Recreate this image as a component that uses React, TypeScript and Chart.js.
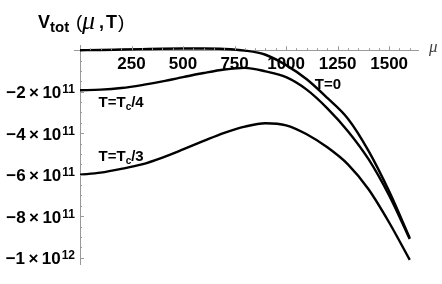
import React, { useEffect, useRef } from "react";
import { Chart, registerables } from "chart.js";

Chart.register(...registerables);

// chemical potential mu
const mu = [0, 100, 200, 300, 400, 500, 600, 700, 800, 900, 1000, 1100, 1200, 1300, 1400, 1500, 1600];

// V_tot(mu, T) for the three temperatures
const vT0 = [0, 0.01e11, 0.03e11, 0.05e11, 0.07e11, 0.08e11, 0.08e11, 0.06e11, -0.02e11, -0.22e11, -0.72e11, -1.4e11, -2.3e11, -3.3e11, -4.85e11, -6.8e11, -9.05e11];
const vTc4 = [-1.93e11, -1.9e11, -1.82e11, -1.68e11, -1.5e11, -1.3e11, -1.1e11, -0.93e11, -0.85e11, -1.02e11, -1.3e11, -1.9e11, -2.8e11, -3.9e11, -5.25e11, -7.0e11, -9.1e11];
const vTc3 = [-6.0e11, -5.9e11, -5.72e11, -5.5e11, -5.17e11, -4.78e11, -4.37e11, -3.98e11, -3.68e11, -3.52e11, -3.62e11, -4.05e11, -4.68e11, -5.5e11, -6.7e11, -8.3e11, -10.1e11];

// axis ticks
const xTickLabels = [250, 500, 750, 1000, 1250, 1500];
const yTickValues = [-2e11, -4e11, -6e11, -8e11, -1e12];
const yTickMantissa = ["2", "4", "6", "8", "1"];
const yTickExponent = ["11", "11", "11", "11", "12"];

// curve labels: main text, subscript, tail, anchor in data coordinates
const curveLabelText = ["T=0", "T=T", "T=T"];
const curveLabelSub = ["", "c", "c"];
const curveLabelTail = ["", "/4", "/3"];
const curveLabelMu = [1139, 90, 90];
const curveLabelV = [-1.59e11, -2.46e11, -5.06e11];

const SANS = '"Liberation Sans", Arial, Helvetica, sans-serif';
const SERIF = '"Liberation Serif", "Times New Roman", serif';

const overlay = {
  id: "overlay",
  afterDraw(chart: any) {
    const ctx: CanvasRenderingContext2D = chart.ctx;
    const xs = chart.scales.x;
    const ys = chart.scales.y;
    ctx.save();

    // minor / major tick marks
    ctx.strokeStyle = "#9a9a9a";
    ctx.lineWidth = 1;
    const y0 = ys.getPixelForValue(0);
    const xAxisPx = xs.getPixelForValue(0);
    for (let m = 50; m <= 1600; m += 50) {
      const px = Math.round(xs.getPixelForValue(m)) + 0.5;
      const len = m % 250 === 0 ? 4 : 2;
      ctx.beginPath();
      ctx.moveTo(px, y0);
      ctx.lineTo(px, y0 - len);
      ctx.stroke();
    }
    for (let v = -0.5e11; v >= -1.0e12; v -= 0.5e11) {
      const py = Math.round(ys.getPixelForValue(v)) + 0.5;
      const major = Math.abs(v / 2e11 - Math.round(v / 2e11)) < 1e-6;
      ctx.beginPath();
      ctx.moveTo(xAxisPx, py);
      ctx.lineTo(xAxisPx + (major ? 4 : 2), py);
      ctx.stroke();
    }
    ctx.beginPath();
    ctx.moveTo(xAxisPx - 6, Math.round(y0) + 0.5);
    ctx.lineTo(xAxisPx, Math.round(y0) + 0.5);
    ctx.stroke();

    ctx.fillStyle = "#000";
    ctx.textAlign = "left";
    ctx.textBaseline = "alphabetic";

    // y tick labels with superscripts
    for (let i = 0; i < yTickValues.length; i++) {
      const py = ys.getPixelForValue(yTickValues[i]);
      const right = 75;
      ctx.font = `bold 12px ${SANS}`;
      const ew = ctx.measureText(yTickExponent[i]).width;
      ctx.fillText(yTickExponent[i], right - ew, py + 1.5);
      ctx.font = `bold 17px ${SANS}`;
      const base = `\u2212${yTickMantissa[i]}\u2009\u00d7\u200910`;
      const bw = ctx.measureText(base).width;
      ctx.fillText(base, right - ew - 1 - bw, py + 6.5);
    }

    // title V_tot(mu,T)
    ctx.font = `bold 18px ${SANS}`;
    ctx.fillText("V", 38, 28);
    ctx.font = `bold 15px ${SANS}`;
    ctx.fillText("tot", 50, 32);
    ctx.font = `19px ${SANS}`;
    ctx.fillText("(", 76, 28);
    ctx.font = `italic 26px ${SERIF}`;
    ctx.fillText("\u03bc", 82, 29);
    ctx.font = `bold 18px ${SANS}`;
    ctx.fillText(",", 99, 28);
    ctx.fillText("T", 106, 28);
    ctx.font = `19px ${SANS}`;
    ctx.fillText(")", 118, 28);

    // axis label mu
    ctx.fillStyle = "#444";
    ctx.font = `italic 17px ${SERIF}`;
    ctx.fillText("\u03bc", 429, 52);

    // curve labels
    ctx.fillStyle = "#000";
    for (let i = 0; i < curveLabelText.length; i++) {
      let x = xs.getPixelForValue(curveLabelMu[i]);
      const yb = ys.getPixelForValue(curveLabelV[i]) + 5.5;
      ctx.font = `bold 15px ${SANS}`;
      ctx.fillText(curveLabelText[i], x, yb);
      x += ctx.measureText(curveLabelText[i]).width;
      if (curveLabelSub[i]) {
        ctx.font = `bold 10px ${SANS}`;
        ctx.fillText(curveLabelSub[i], x, yb + 3);
        x += ctx.measureText(curveLabelSub[i]).width;
      }
      if (curveLabelTail[i]) {
        ctx.font = `bold 15px ${SANS}`;
        ctx.fillText(curveLabelTail[i], x, yb);
      }
    }
    ctx.restore();
  },
};

export default function App() {
  const canvasRef = useRef<HTMLCanvasElement | null>(null);

  useEffect(() => {
    if (!canvasRef.current) return;
    const mk = (vals: number[]) => mu.map((m, i) => ({ x: m, y: vals[i] }));
    const ds = (label: string, vals: number[]) => ({
      label,
      data: mk(vals),
      borderColor: "#000",
      borderWidth: 2.4,
      pointRadius: 0,
      cubicInterpolationMode: "monotone",
      fill: false,
    });
    const chart = new Chart(canvasRef.current, {
      type: "line",
      data: {
        datasets: [ds("T=0", vT0), ds("T=Tc/4", vTc4), ds("T=Tc/3", vTc3)],
      },
      options: {
        responsive: false,
        animation: false,
        devicePixelRatio: 1,
        layout: { padding: { left: 0, top: 45, right: 24, bottom: 20 } },
        plugins: {
          legend: { display: false },
          tooltip: { enabled: false },
          title: { display: false },
        },
        scales: {
          x: {
            type: "linear",
            min: 0,
            max: 1640,
            position: { y: 0 } as any,
            grid: { display: false, drawTicks: false },
            border: { display: true, color: "#9a9a9a", width: 1 },
            afterBuildTicks: (s: any) => {
              s.ticks = xTickLabels.map((v) => ({ value: v }));
            },
            ticks: {
              autoSkip: false,
              maxRotation: 0,
              padding: 4,
              color: "#000",
              font: { family: SANS, size: 17, weight: "bold" },
              callback: (v: any) => String(v),
            },
          },
          y: {
            type: "linear",
            min: -1.03e12,
            max: 0.025e12,
            grid: { display: false, drawTicks: false },
            border: { display: true, color: "#9a9a9a", width: 1 },
            ticks: { display: false },
            afterFit: (s: any) => {
              s.width = 80;
            },
          },
        },
      },
      plugins: [overlay],
    } as any);
    return () => chart.destroy();
  }, []);

  return (
    <div style={{ position: "fixed", left: 0, top: 0, width: 442, height: 284, background: "#fff" }}>
      <canvas ref={canvasRef} width={442} height={284} style={{ display: "block" }} />
    </div>
  );
}
